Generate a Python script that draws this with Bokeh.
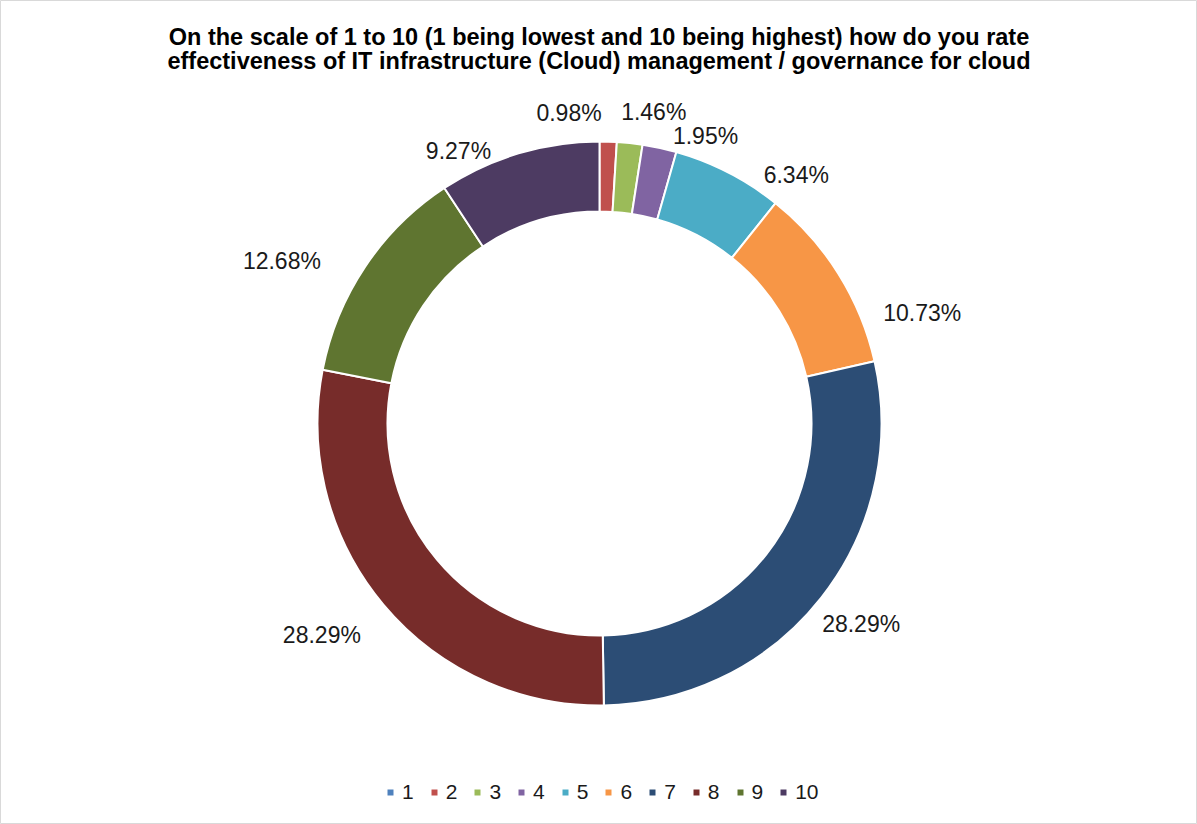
import numpy as np
from bokeh.plotting import figure
from bokeh.models import ColumnDataSource, Range1d, Legend, LegendItem, Label
from bokeh.core.properties import value
from bokeh.embed import file_html
from bokeh.resources import INLINE

# ---- data ----
categories = ["1", "2", "3", "4", "5", "6", "7", "8", "9", "10"]
values = [0.00, 0.98, 1.46, 1.95, 6.34, 10.73, 28.29, 28.29, 12.68, 9.27]
colors = ["#4F81BD", "#C0504D", "#9BBB59", "#8064A2", "#4BACC6",
          "#F79646", "#2C4D75", "#772C2A", "#5F7530", "#4D3B62"]
title_lines = [
    "On the scale of 1 to 10 (1 being lowest and 10 being highest) how do you rate",
    "effectiveness of IT infrastructure (Cloud) management / governance for cloud",
]
# label nudges (screen px) relative to a radial anchor
label_dx = [0, -40, 21, 40, 55, 60, 18, -40, -60, -52]
label_dy = [0, -1, -3, 15, 27, 54, 9, 12, 10, 24]

# ---- layout ----
W, H = 1197, 824
cx, cy = 599, H - 423
R_OUT, R_IN, R_LAB = 282, 212, 310
FONT = "Liberation Sans"

vals = np.array(values, dtype=float)
cum = np.concatenate([[0.0], np.cumsum(vals)]) / vals.sum()
start = np.pi / 2 - 2 * np.pi * cum[:-1]
end = np.pi / 2 - 2 * np.pi * cum[1:]
mid = (start + end) / 2

src = ColumnDataSource(dict(cat=categories, start=start, end=end, color=colors))

p = figure(width=W, height=H, x_range=Range1d(0, W), y_range=Range1d(0, H),
           output_backend="svg", toolbar_location=None, min_border=0)
p.axis.visible = False
p.grid.visible = False
p.background_fill_color = "white"
p.border_fill_color = "white"
p.outline_line_color = "#d9d9d9"
p.outline_line_width = 1

wedges = p.annular_wedge(x=cx, y=cy, inner_radius=R_IN, outer_radius=R_OUT,
                         start_angle="start", end_angle="end", direction="clock",
                         fill_color="color", line_color="white", line_width=2,
                         source=src)

# data labels
lab_txt, lab_x, lab_y = [], [], []
for i, v in enumerate(values):
    if v <= 0:
        continue
    lab_txt.append(f"{v:.2f}%")
    lab_x.append(cx + R_LAB * np.cos(mid[i]) + label_dx[i])
    lab_y.append(cy + R_LAB * np.sin(mid[i]) - label_dy[i])
lsrc = ColumnDataSource(dict(x=lab_x, y=lab_y, t=lab_txt))
p.text(x="x", y="y", text="t", source=lsrc, text_align="center",
       text_baseline="alphabetic", text_font=value(FONT),
       text_font_size="23px", text_color="#1a1a1a")

# title
for k, line in enumerate(title_lines):
    p.add_layout(Label(x=W / 2, y=H - 36 - 24 * k, text=line, text_align="center",
                       text_baseline="alphabetic", text_font=FONT,
                       text_font_style="bold", text_font_size="23.5px",
                       text_color="#000000"))

# legend
items = [LegendItem(label=c, renderers=[wedges], index=i) for i, c in enumerate(categories)]
legend = Legend(items=items, orientation="horizontal", location=(385, 20),
                glyph_width=10, glyph_height=10, label_standoff=7, spacing=15,
                label_width=1, padding=0, margin=0,
                label_text_font=FONT, label_text_font_size="21px",
                label_text_color="#1a1a1a",
                background_fill_alpha=0, border_line_alpha=0)
p.add_layout(legend)

open("out.html", "w").write(file_html(p, INLINE))
